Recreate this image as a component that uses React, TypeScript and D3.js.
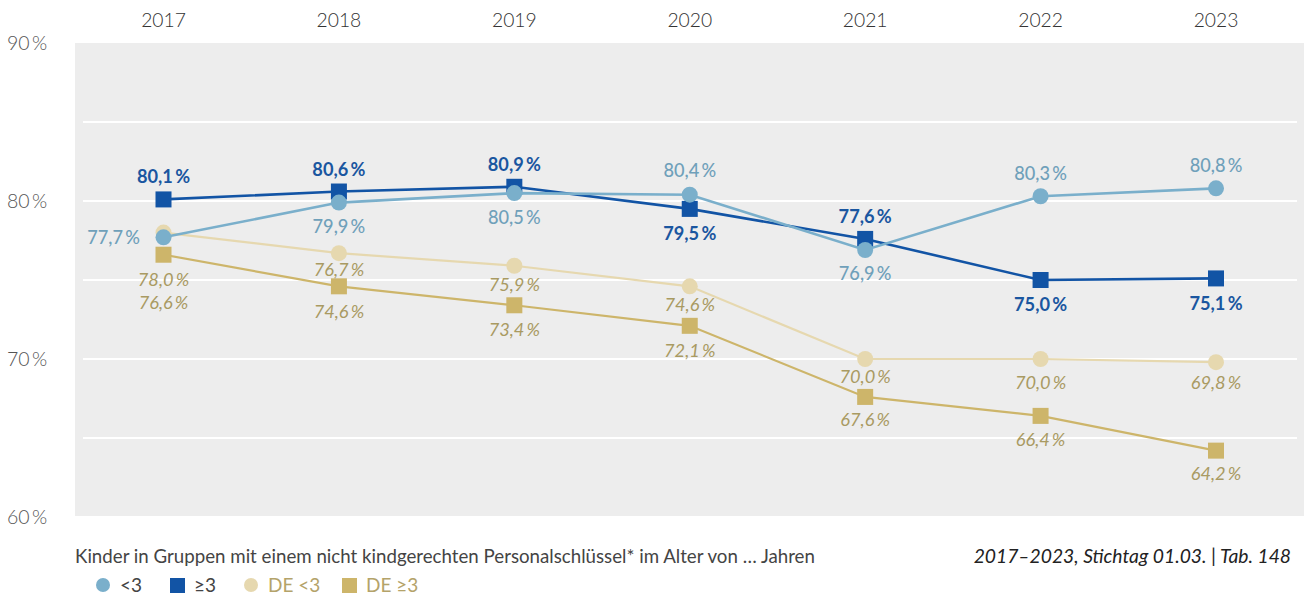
import React from "react";
import * as d3 from "d3";

const years = ["2017", "2018", "2019", "2020", "2021", "2022", "2023"];
const under3 = [77.7, 79.9, 80.5, 80.4, 76.9, 80.3, 80.8];
const over3 = [80.1, 80.6, 80.9, 79.5, 77.6, 75.0, 75.1];
const deUnder3 = [78.0, 76.7, 75.9, 74.6, 70.0, 70.0, 69.8];
const deOver3 = [76.6, 74.6, 73.4, 72.1, 67.6, 66.4, 64.2];
const yTicks = [60, 70, 80, 90];
const gridTicks = [65, 70, 75, 80, 85];

// label placement per point: [dx, dy] relative to the marker
const under3Lbl = [[-50, 0], [0, 24], [0, 25], [0, -24], [0, 24], [0, -23], [0, -23]];
const over3Lbl = [[0, -23], [0, -22], [0, -22], [0, 25], [0, -22], [0, 25], [0, 25]];
const deUnder3Lbl = [[0, 47], [0, 16], [0, 19], [0, 18], [0, 18], [0, 24], [0, 20]];
const deOver3Lbl = [[0, 48], [0, 25], [0, 24], [0, 25], [0, 23], [0, 24], [0, 23]];

const fmt = (v: number) => v.toFixed(1).replace(".", ",") + "\u2009%";

const W = 1304, H = 595;
const x = d3.scalePoint<string>().domain(years).range([163.5, 1216]);
const y = d3.scaleLinear().domain([60, 90]).range([517, 43]);

type Series = {
  name: string; values: number[]; lbl: number[][]; color: string; lw: number;
  marker: "circle" | "square"; textColor: string; weight: number; italic: boolean;
};

const series: Series[] = [
  { name: "DE <3", values: deUnder3, lbl: deUnder3Lbl, color: "#E6D8AF", lw: 2.2, marker: "circle", textColor: "#A99A62", weight: 400, italic: true },
  { name: "DE ≥3", values: deOver3, lbl: deOver3Lbl, color: "#CDB56A", lw: 2.2, marker: "square", textColor: "#A99A62", weight: 400, italic: true },
  { name: "≥3", values: over3, lbl: over3Lbl, color: "#1254A5", lw: 2.6, marker: "square", textColor: "#1A56A0", weight: 700, italic: false },
  { name: "<3", values: under3, lbl: under3Lbl, color: "#7AAFCB", lw: 2.6, marker: "circle", textColor: "#6FA0BA", weight: 500, italic: false },
];

const legend = [
  { label: "<3", marker: "circle", color: "#7AAFCB", text: "#444", x: 103 },
  { label: "≥3", marker: "square", color: "#1254A5", text: "#444", x: 177 },
  { label: "DE <3", marker: "circle", color: "#E6D8AF", text: "#B4A36A", x: 251 },
  { label: "DE ≥3", marker: "square", color: "#CDB56A", text: "#B4A36A", x: 349 },
];

export default function App() {
  const line = d3.line<number>().x((_, i) => x(years[i])!).y((v) => y(v));
  const font = "Lato, 'Open Sans', sans-serif";
  return (
    <svg width={W} height={H} style={{ position: "absolute", left: 0, top: 0 }} fontFamily={font}>
      <rect x={75} y={43} width={W - 75} height={473} fill="#EDEDED" />
      {gridTicks.map((t) => (
        <line key={t} x1={83} x2={1297} y1={y(t)} y2={y(t)} stroke="#fff" strokeWidth={2} />
      ))}
      {yTicks.map((t) => (
        <text key={t} x={7} y={y(t)} dy="0.35em" fontSize={19.5} fill="#555" fontWeight={300}>
          {t + "\u2009%"}
        </text>
      ))}
      {years.map((yr) => (
        <text key={yr} x={x(yr)} y={20} dy="0.35em" textAnchor="middle" fontSize={19.3} fill="#333" fontWeight={300}>
          {yr}
        </text>
      ))}
      {series.map((s) => (
        <g key={s.name}>
          <path d={line(s.values)!} fill="none" stroke={s.color} strokeWidth={s.lw} />
          {s.values.map((v, i) =>
            s.marker === "circle" ? (
              <circle key={i} cx={x(years[i])} cy={y(v)} r={8} fill={s.color} />
            ) : (
              <rect key={i} x={x(years[i])! - 8} y={y(v) - 8} width={16} height={16} fill={s.color} />
            )
          )}
        </g>
      ))}
      {series.map((s) => (
        <g key={s.name + "l"}>
          {s.values.map((v, i) => (
            <text key={i} x={x(years[i])! + s.lbl[i][0]} y={y(v) + s.lbl[i][1]} dy="0.35em" textAnchor="middle"
              fontSize={18.2} fill={s.textColor} fontWeight={s.weight} fontStyle={s.italic ? "italic" : "normal"}>
              {fmt(v)}
            </text>
          ))}
        </g>
      ))}
      <text x={75} y={563} fontSize={18.7} fill="#444">
        Kinder in Gruppen mit einem nicht kindgerechten Personalschlüssel* im Alter von … Jahren
      </text>
      <text x={1291} y={563} fontSize={19.3} fill="#222" fontStyle="italic" textAnchor="end">
        2017–2023, Stichtag 01.03. | Tab. 148
      </text>
      {legend.map((l) => (
        <g key={l.label}>
          {l.marker === "circle" ? (
            <circle cx={l.x} cy={585} r={7} fill={l.color} />
          ) : (
            <rect x={l.x - 7} y={578} width={15} height={15} fill={l.color} />
          )}
          <text x={l.x + 17} y={585} dy="0.35em" fontSize={19} fill={l.text}>{l.label}</text>
        </g>
      ))}
    </svg>
  );
}
